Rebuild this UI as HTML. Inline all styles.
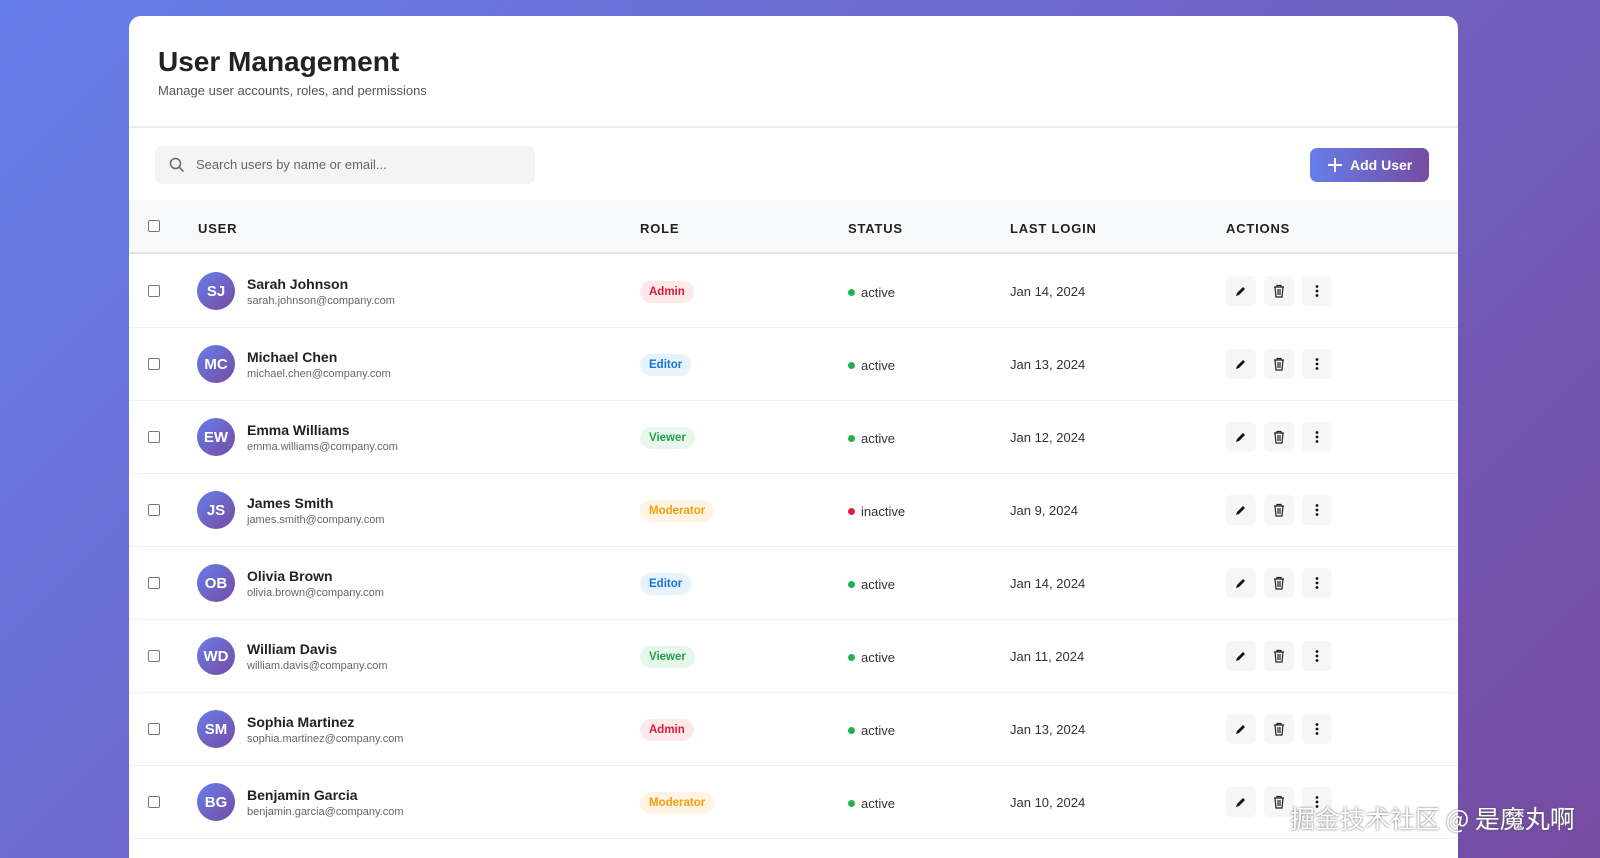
<!DOCTYPE html>
<html><head><meta charset="utf-8"><style>
*{box-sizing:border-box;margin:0;padding:0}
html{width:1600px;height:858px;overflow:hidden}
body{width:1600px;height:858px;overflow:hidden;background:linear-gradient(135deg,#667eea 0%,#764ba2 100%);font-family:"Liberation Sans",sans-serif;position:relative}
.card{position:absolute;left:129px;top:16px;width:1329px;height:842px;background:#fff;border-radius:12px 12px 0 0;overflow:hidden}
h1{position:absolute;left:29px;top:30px;font-size:28px;font-weight:bold;color:#222}
.sub{position:absolute;left:29px;top:67px;font-size:13px;color:#555}
.hr{position:absolute;left:0;right:0;top:110px;height:2px;background:#ececec}
.search{position:absolute;left:26px;top:130px;width:380px;height:38px;background:#f4f4f5;border-radius:7px;font-size:13px;color:#666;padding:11px 0 0 41px}
.search svg{position:absolute;left:14px;top:11px}
.add{position:absolute;left:1181px;top:132px;width:119px;height:34px;border-radius:7px;background:linear-gradient(90deg,#667eea,#764ba2);color:#fff;font-weight:bold;font-size:14px;padding:9px 0 0 40px}
.add svg{position:absolute;left:17px;top:9px}
.thead{position:absolute;left:0;right:0;top:184px;height:54px;background:#f8f9fa;border-bottom:2px solid #e3e3e3}
.th{position:absolute;top:21px;font-size:13px;font-weight:bold;color:#222;letter-spacing:.8px}
.cb{position:absolute;width:12px;height:12px;border:1px solid #777;border-radius:2px;background:#fff}
.row{position:absolute;left:0;right:0;height:73px;border-bottom:1px solid #f0f0f0}
.av{position:absolute;left:68px;top:17px;width:38px;height:38px;border-radius:50%;background:linear-gradient(135deg,#667eea,#764ba2);color:#fff;font-weight:bold;font-size:15px;text-align:center;line-height:40px}
.nm{position:absolute;left:118px;top:21px;font-size:14px;font-weight:bold;color:#222}
.em{position:absolute;left:118px;top:40px;font-size:11px;color:#666}
.badge{position:absolute;left:511px;top:26px;height:22px;border-radius:11px;padding:0 9px;font-size:11.5px;font-weight:bold;line-height:22px}
.admin{background:#fde8ea;color:#d81b3c}.editor{background:#e6f3fc;color:#1976d2}.viewer{background:#e8f7ec;color:#22a04a}.mod{background:#fff4e4;color:#f59e0b}
.st{position:absolute;left:719px;top:30px;font-size:13px;color:#333}
.st i{display:inline-block;width:7px;height:7px;border-radius:50%;margin-right:6px;vertical-align:1px}
.dt{position:absolute;left:881px;top:29px;font-size:13px;color:#333}
.ab{position:absolute;top:21px;width:30px;height:30px;border-radius:5px;background:#f6f6f6}
.ab svg{position:absolute;left:8px;top:8px}
.wm{position:absolute;left:1290px;top:800px;font-family:"Noto Sans CJK SC",sans-serif;font-size:25px;color:#fff;text-shadow:0 0 2px #555}
</style></head><body>
<div class="card">
<h1>User Management</h1>
<div class="sub">Manage user accounts, roles, and permissions</div>
<div class="hr"></div>
<div class="search"><svg width="16" height="16" viewBox="0 0 16 16"><circle cx="6.5" cy="6.5" r="5" fill="none" stroke="#666" stroke-width="1.5"/><line x1="10.2" y1="10.2" x2="14.5" y2="14.5" stroke="#666" stroke-width="1.5"/></svg>Search users by name or email...</div>
<div class="add"><svg width="16" height="16" viewBox="0 0 16 16"><path d="M8 1v14M1 8h14" stroke="#fff" stroke-width="2"/></svg>Add User</div>
<div class="thead">
<div class="cb" style="left:19px;top:20px"></div>
<div class="th" style="left:69px">USER</div>
<div class="th" style="left:511px">ROLE</div>
<div class="th" style="left:719px">STATUS</div>
<div class="th" style="left:881px">LAST LOGIN</div>
<div class="th" style="left:1097px">ACTIONS</div>
</div>
<div id="rows"></div>
</div>
<div class="wm">掘金技术社区 @ 是魔丸啊</div>
<script>
var d=[["SJ","Sarah Johnson","sarah.johnson@company.com","admin","Admin","active","Jan 14, 2024"],
["MC","Michael Chen","michael.chen@company.com","editor","Editor","active","Jan 13, 2024"],
["EW","Emma Williams","emma.williams@company.com","viewer","Viewer","active","Jan 12, 2024"],
["JS","James Smith","james.smith@company.com","mod","Moderator","inactive","Jan 9, 2024"],
["OB","Olivia Brown","olivia.brown@company.com","editor","Editor","active","Jan 14, 2024"],
["WD","William Davis","william.davis@company.com","viewer","Viewer","active","Jan 11, 2024"],
["SM","Sophia Martinez","sophia.martinez@company.com","admin","Admin","active","Jan 13, 2024"],
["BG","Benjamin Garcia","benjamin.garcia@company.com","mod","Moderator","active","Jan 10, 2024"]];
var pen='<svg width="14" height="14" viewBox="0 0 14 14"><path d="M2 12l1-3 6-6 2 2-6 6z" fill="#111"/></svg>';
var tr='<svg width="14" height="14" viewBox="0 0 14 14" fill="none" stroke="#222" stroke-width="1.2"><path d="M2 3h10M5 3V1.5h4V3M3 3l1 10h6l1-10M6 5v6M8 5v6"/></svg>';
var mo='<svg width="14" height="14" viewBox="0 0 14 14" fill="#111"><circle cx="7" cy="2.5" r="1.4"/><circle cx="7" cy="7" r="1.4"/><circle cx="7" cy="11.5" r="1.4"/></svg>';
var h="";d.forEach(function(r,i){var t=239+i*73;
h+='<div class="row" style="top:'+t+'px"><div class="cb" style="left:19px;top:30px"></div><div class="av">'+r[0]+'</div><div class="nm">'+r[1]+'</div><div class="em">'+r[2]+'</div><div class="badge '+r[3]+'">'+r[4]+'</div><div class="st"><i style="background:'+(r[5]=="active"?"#22b14c":"#e0203a")+'"></i>'+r[5]+'</div><div class="dt">'+r[6]+'</div><div class="ab" style="left:1097px">'+pen+'</div><div class="ab" style="left:1135px">'+tr+'</div><div class="ab" style="left:1173px">'+mo+'</div></div>';});
document.getElementById("rows").innerHTML=h;
</script>
</body></html>
